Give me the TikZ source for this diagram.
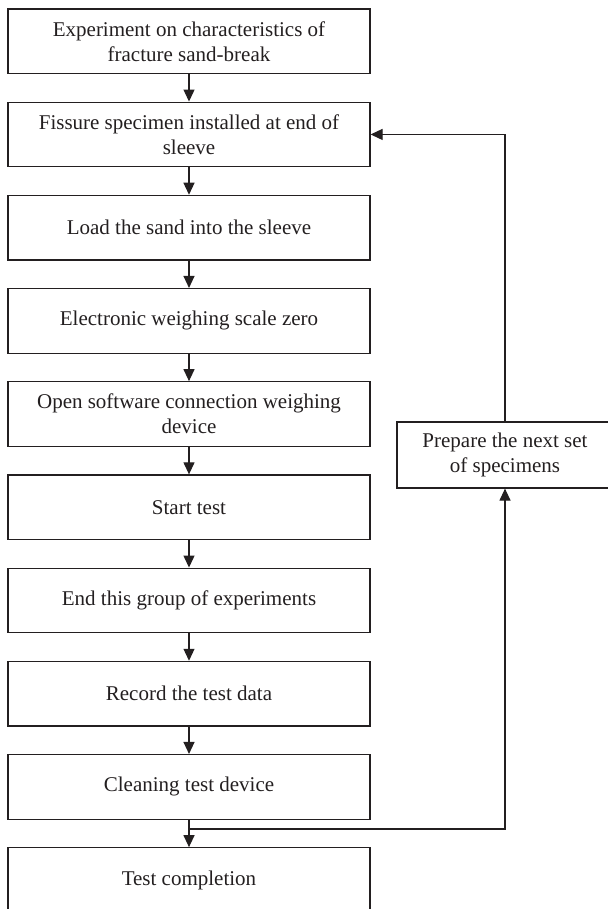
\documentclass[tikz,border=0pt]{standalone}
\usepackage{fontspec}
\setmainfont{Liberation Serif}
\usetikzlibrary{arrows.meta}
\definecolor{ink}{HTML}{231F20}
\tikzset{
    stepbox/.style={draw=ink,line width=0.6pt,minimum width=181pt,minimum height=32.3pt,align=center,text=ink,font=\fontsize{10.5}{12.5}\selectfont},
    sidebox/.style={stepbox,minimum width=108pt,minimum height=33pt},
    arr/.style={draw=ink,line width=0.6pt,-{Triangle[length=6pt,width=5.5pt]}}
}

\begin{document}
\begin{tikzpicture}[x=0.5pt,y=-0.5pt]
                \useasboundingbox (0,0) rectangle (608,909);
                \foreach \txt [count=\i] in {{Experiment on characteristics of\\fracture sand-break},
                        {Fissure specimen installed at end of\\sleeve},
                        {Load the sand into the sleeve},
                        {Electronic weighing scale zero},
                        {Open software connection weighing\\device},
                        {Start test},
                        {End this group of experiments},
                        {Record the test data},
                        {Cleaning test device},
                        {Test completion}}
                    \node[stepbox] (b\i) at (189,{41.25+93.2*(\i-1)}) {\txt};
                \foreach \i/\j in {1/2,2/3,3/4,4/5,5/6,6/7,7/8,8/9,9/10}
                    \draw[arr] (b\i) -- (b\j);
                \node[sidebox] (prep) at (505,455) {Prepare the next set\\of specimens};
                \coordinate (turn) at (505,829);
                \draw[arr] (b9.south |- turn) -- (turn) -- (prep);
                \draw[arr] (prep) |- (b2.east);
            \end{tikzpicture}
\end{document}
